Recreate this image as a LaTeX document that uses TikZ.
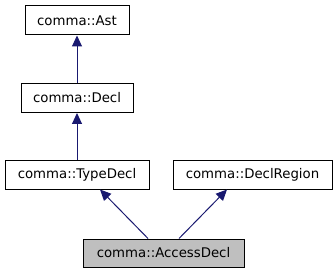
\documentclass[tikz,border=0pt]{standalone}
\usepackage{fontspec}
\setmainfont{DejaVu Sans}
\usetikzlibrary{arrows.meta}
\definecolor{edgeblue}{HTML}{191970}
\definecolor{boxgrey}{HTML}{BFBFBF}
\begin{document}
\begin{tikzpicture}[x=1pt,y=1pt,
  cls/.style={draw=black, line width=1pt, fill=white, inner sep=0pt, minimum height=29pt, font=\fontsize{13.3}{15}\selectfont},
  inh/.style={draw=edgeblue, line width=1pt, -{Triangle[length=11pt,width=10pt]}}]
\useasboundingbox (0,0) rectangle (336,-272);
\node[cls, minimum width=104pt] (ast) at (77,-20.5) {comma::Ast};
\node[cls, minimum width=112pt] (decl) at (77,-98) {comma::Decl};
\node[cls, minimum width=144pt] (td) at (77,-174.5) {comma::TypeDecl};
\node[cls, minimum width=159pt] (dr) at (252.5,-174.5) {comma::DeclRegion};
\node[cls, minimum width=161pt, minimum height=28pt, fill=boxgrey] (ad) at (163.5,-253) {comma::AccessDecl};
\draw[inh] (decl) -- (ast);
\draw[inh] (td) -- (decl);
\draw[inh] ([xshift=-15.5pt]ad.north) -- ([xshift=23pt]td.south);
\draw[inh] ([xshift=15.5pt]ad.north) -- ([xshift=-25.5pt]dr.south);
\end{tikzpicture}
\end{document}
